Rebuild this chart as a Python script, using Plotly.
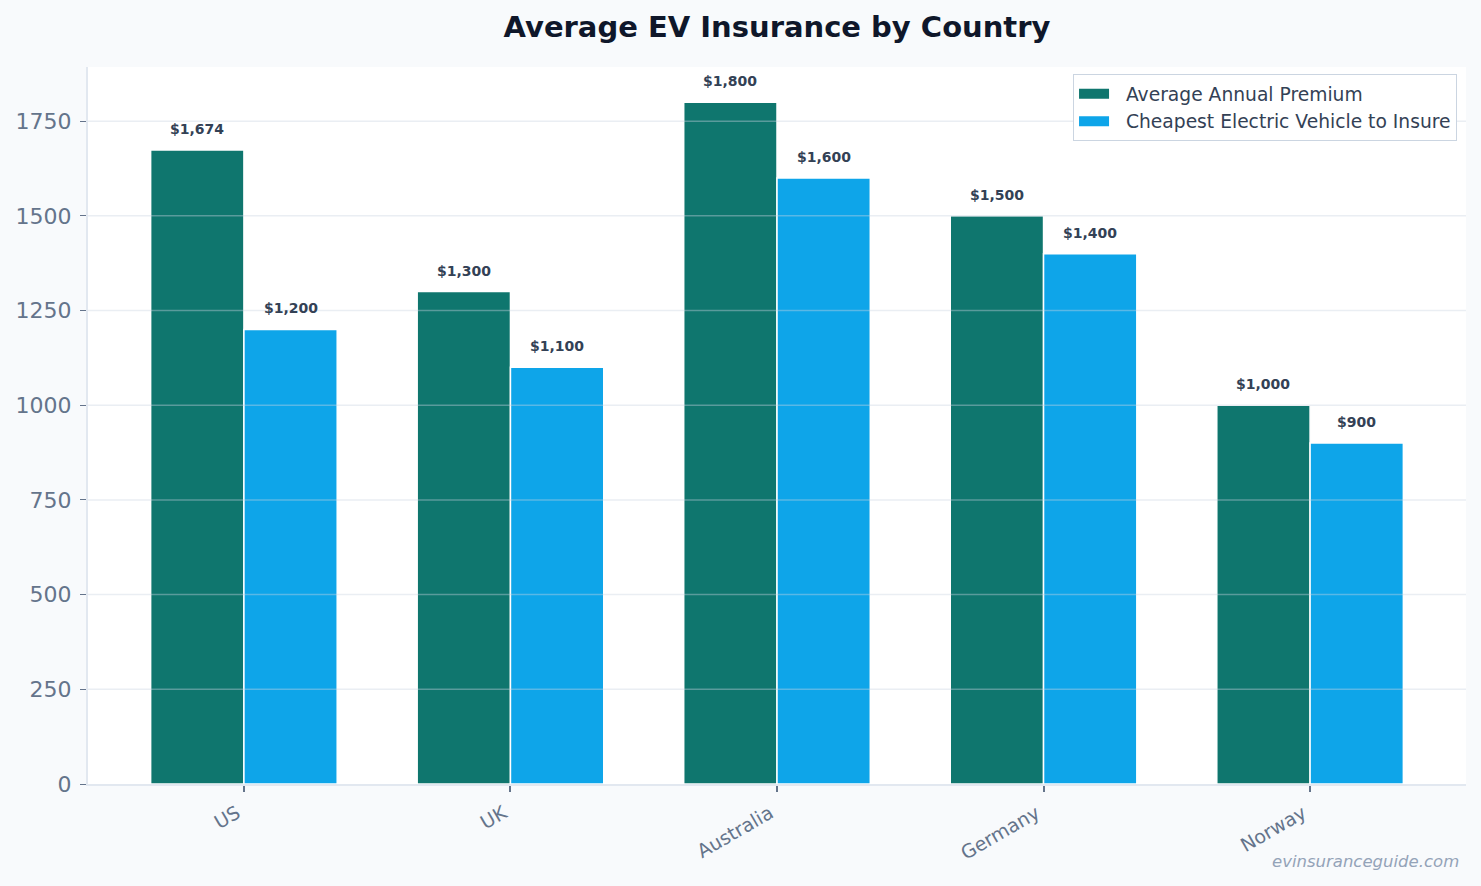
import plotly.graph_objects as go

countries = ["US", "UK", "Australia", "Germany", "Norway"]
avg_premium = [1674, 1300, 1800, 1500, 1000]
cheapest_ev = [1200, 1100, 1600, 1400, 900]
series_names = ["Average Annual Premium", "Cheapest Electric Vehicle to Insure"]
y_ticks = [0, 250, 500, 750, 1000, 1250, 1500, 1750]

FONT = "DejaVu Sans"
C_GREEN = "#0f766e"
C_BLUE = "#0ea5e9"

fig = go.Figure()
for name, vals, col in [(series_names[0], avg_premium, C_GREEN),
                        (series_names[1], cheapest_ev, C_BLUE)]:
    fig.add_trace(go.Bar(
        x=countries, y=vals, name=name, showlegend=False,
        marker=dict(color=col, line=dict(color="white", width=1.5)),
        hoverinfo="x+y",
    ))
# legend entries drawn as wide rectangles
for name, col in [(series_names[0], C_GREEN), (series_names[1], C_BLUE)]:
    fig.add_trace(go.Scatter(
        x=[None], y=[None], mode="lines", name="\u00a0\u00a0" + name,
        line=dict(color=col, width=12),
    ))

# value labels
annotations = []
for offset, vals in [(-0.175, avg_premium), (0.175, cheapest_ev)]:
    for i, v in enumerate(vals):
        annotations.append(dict(
            x=i + offset, y=v, xref="x", yref="y", text=f"<b>${v:,}</b>",
            showarrow=False, yanchor="bottom", yshift=11,
            font=dict(family=FONT, size=14, color="#334155"),
        ))
annotations.append(dict(
    x=1, y=0, xref="paper", yref="paper", xanchor="right", yanchor="top",
    xshift=-5, yshift=-66, showarrow=False,
    text="<i>evinsuranceguide.com</i>",
    font=dict(family=FONT, size=16.5, color="#94a3b8"),
))

# gridlines drawn above bars (semi-transparent)
shapes = []
for t in y_ticks[1:]:
    shapes.append(dict(type="line", xref="paper", x0=0, x1=1, yref="y", y0=t, y1=t,
                       line=dict(color="rgba(203,213,225,0.4)", width=1.5), layer="above"))

fig.update_layout(
    width=1481, height=886,
    margin=dict(l=88, r=15, t=67, b=102),
    paper_bgcolor="#f8fafc", plot_bgcolor="#ffffff",
    barmode="group", bargap=0.3, bargroupgap=0,
    title=dict(text="<b>Average EV Insurance by Country</b>", x=777/1481, xanchor="center",
               y=1 - 27/886, yanchor="middle",
               font=dict(family=FONT, size=29, color="#0f172a")),
    font=dict(family=FONT, color="#64748b"),
    showlegend=True,
    legend=dict(x=0.9935, y=0.99, xanchor="right", yanchor="top", xref="paper", yref="paper",
                bgcolor="white", bordercolor="#cbd5e1", borderwidth=1,
                font=dict(family=FONT, size=18.7, color="#334155"),
                tracegroupgap=2, itemwidth=30),
    annotations=annotations,
    shapes=shapes,
    xaxis=dict(range=[-0.585, 4.585], tickangle=-30, ticks="outside", ticklen=6,
               tickcolor="#64748b", tickwidth=1.5,
               ticklabelstandoff=3, ticklabelshift=-7,
               tickfont=dict(family=FONT, size=19, color="#64748b"),
               showline=True, linecolor="#e2e8f0", linewidth=2, showgrid=False,
               zeroline=False),
    yaxis=dict(range=[0, 1893], tickvals=y_ticks, ticks="outside", ticklen=6,
               tickcolor="#64748b", tickwidth=1, showgrid=False,
               ticklabelstandoff=4,
               tickfont=dict(family=FONT, size=22, color="#64748b"),
               showline=True, linecolor="#e2e8f0", linewidth=2, zeroline=False),
)

fig.write_html("out.html")
